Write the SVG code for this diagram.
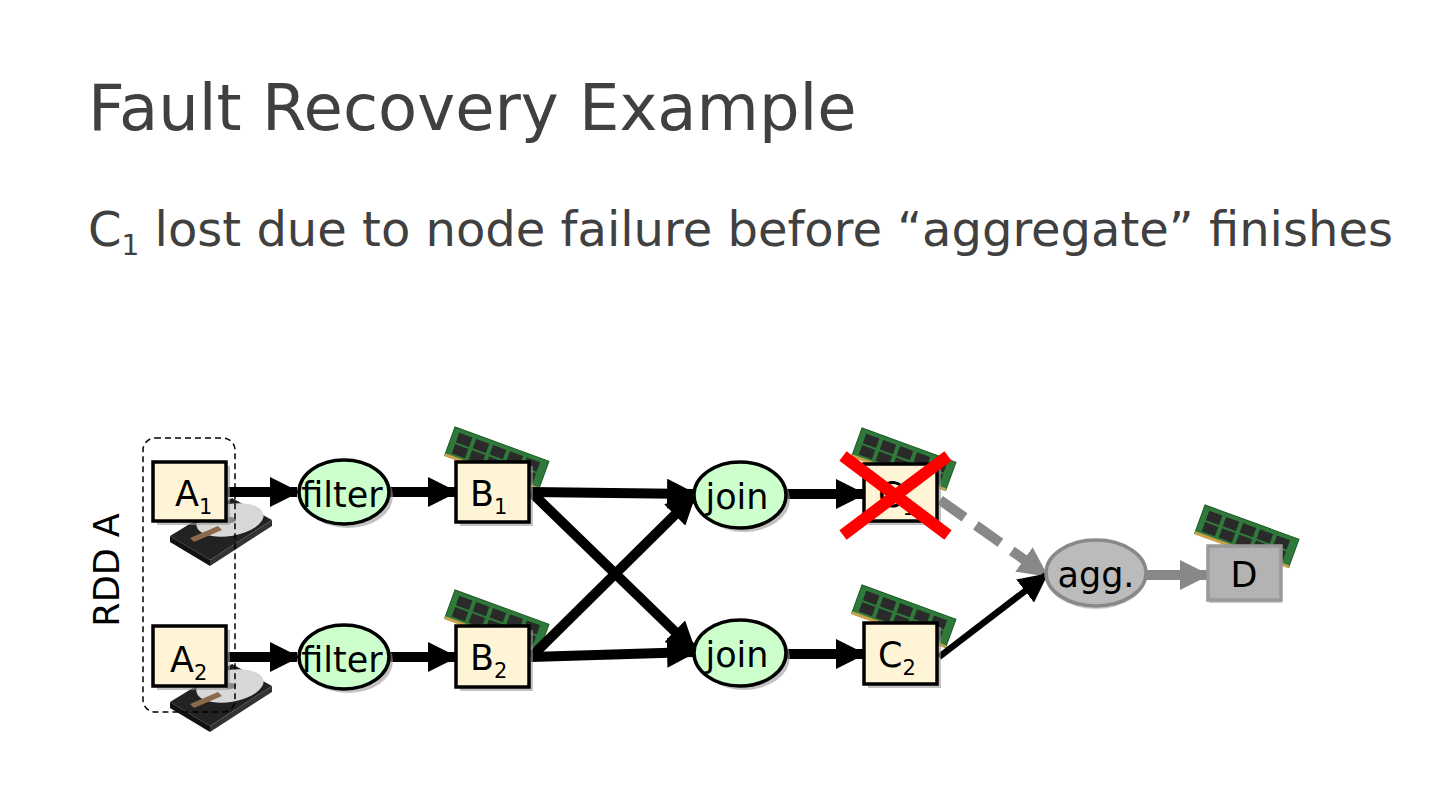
<svg xmlns="http://www.w3.org/2000/svg" width="1440" height="811" viewBox="0 0 1440 811">
<defs>
<style>
.t{font-family:"DejaVu Sans","Liberation Sans",sans-serif;fill:#404040}
.lbl{font-family:"DejaVu Sans","Liberation Sans",sans-serif;font-size:35px;fill:#000}
.sub{font-size:21px}
.box{fill:#FFF5D6;stroke:#000;stroke-width:3.5}
.shadow{fill:#9a9a9a;opacity:0.6}
.ell{fill:#CCFFCC;stroke:#000;stroke-width:3.5}
.ln{stroke:#000;stroke-width:10;fill:none}
.ram{fill:#2f7a3a;stroke:#1d5a28;stroke-width:1}
.chip{fill:#2a2a2a}
</style>
<marker id="ah" viewBox="0 0 10 10" refX="9" refY="5" markerWidth="3" markerHeight="3" markerUnits="strokeWidth" orient="auto">
<path d="M0,0 L10,5 L0,10 z" fill="#000"/>
</marker>
<marker id="ahg" viewBox="0 0 10 10" refX="9" refY="5" markerWidth="3" markerHeight="3" markerUnits="strokeWidth" orient="auto">
<path d="M0,0 L10,5 L0,10 z" fill="#888"/>
</marker>
<marker id="ahs" viewBox="0 0 10 10" refX="9" refY="5" markerWidth="4.5" markerHeight="4.5" markerUnits="strokeWidth" orient="auto">
<path d="M0,0 L10,5 L0,10 z" fill="#000"/>
</marker>
<g id="ramstick">
<rect class="ram" x="0" y="0" width="100" height="30"/>
<rect class="chip" x="6" y="4" width="14" height="10"/>
<rect class="chip" x="24" y="4" width="14" height="10"/>
<rect class="chip" x="42" y="4" width="14" height="10"/>
<rect class="chip" x="60" y="4" width="14" height="10"/>
<rect class="chip" x="78" y="4" width="14" height="10"/>
<rect class="chip" x="6" y="16" width="14" height="10"/>
<rect class="chip" x="24" y="16" width="14" height="10"/>
<rect class="chip" x="42" y="16" width="14" height="10"/>
<rect class="chip" x="60" y="16" width="14" height="10"/>
<rect class="chip" x="78" y="16" width="14" height="10"/>
<rect x="0" y="28" width="100" height="3" fill="#c9a24a"/>
</g>
<g id="hdd">
<path d="M0,38 L62,0 L102,22 L40,62 Z" fill="#222"/>
<ellipse cx="60" cy="22" rx="34" ry="16" fill="#d8d8d8" transform="rotate(-10 60 22)"/>
<ellipse cx="60" cy="22" rx="6" ry="3" fill="#888"/>
<path d="M20,40 L48,28 L52,32 L24,44 Z" fill="#8a6a4a"/>
<path d="M0,38 L40,62 L40,68 L0,44 Z" fill="#111"/>
<path d="M40,62 L102,22 L102,28 L40,68 Z" fill="#333"/>
</g>
</defs>
<rect width="1440" height="811" fill="#fff"/>

<text class="t" x="88" y="130" font-size="64">Fault Recovery Example</text>
<text class="t" x="88" y="246" font-size="48">C<tspan font-size="28" dy="9">1</tspan><tspan dy="-9"> lost due to node failure before “aggregate” finishes</tspan></text>

<g id="images">
<use href="#hdd" transform="translate(170,498)"/>
<use href="#hdd" transform="translate(170,664)"/>
<use href="#ramstick" transform="translate(455,427) rotate(20)"/>
<use href="#ramstick" transform="translate(455,590) rotate(20)"/>
<use href="#ramstick" transform="translate(862,428) rotate(20)"/>
<use href="#ramstick" transform="translate(862,585) rotate(20)"/>
<use href="#ramstick" transform="translate(1205,505) rotate(20)"/>
</g>

<g id="rddA">
<rect x="143" y="438" width="92" height="274" rx="12" fill="none" stroke="#000" stroke-width="1.5" stroke-dasharray="6,4"/>
<text class="lbl" transform="translate(119,570) rotate(-90)" text-anchor="middle" font-size="36">RDD A</text>
</g>

<g id="connectors">
<line class="ln" x1="228" y1="492" x2="297" y2="492" marker-end="url(#ah)"/>
<line class="ln" x1="228" y1="657" x2="297" y2="657" marker-end="url(#ah)"/>
<line class="ln" x1="390" y1="492" x2="455" y2="492" marker-end="url(#ah)"/>
<line class="ln" x1="390" y1="657" x2="455" y2="657" marker-end="url(#ah)"/>
<line class="ln" x1="531" y1="492" x2="694" y2="494" marker-end="url(#ah)"/>
<line class="ln" x1="531" y1="492" x2="694" y2="650" marker-end="url(#ah)"/>
<line class="ln" x1="531" y1="657" x2="694" y2="496" marker-end="url(#ah)"/>
<line class="ln" x1="531" y1="657" x2="694" y2="652" marker-end="url(#ah)"/>
<line class="ln" x1="786" y1="494" x2="863" y2="494" marker-end="url(#ah)"/>
<line class="ln" x1="786" y1="654" x2="863" y2="654" marker-end="url(#ah)"/>
<line x1="940" y1="500" x2="1046" y2="575" stroke="#888" stroke-width="10" stroke-dasharray="30,14" marker-end="url(#ahg)"/>
<line x1="939" y1="657" x2="1046" y2="575" stroke="#000" stroke-width="6.5" marker-end="url(#ahs)"/>
<line x1="1147" y1="575" x2="1207" y2="575" stroke="#888" stroke-width="10" marker-end="url(#ahg)"/>
</g>

<g id="A1">
<rect class="shadow" x="157" y="466" width="73" height="59"/>
<rect class="box" x="153" y="462" width="73" height="59"/>
<text class="lbl" x="175" y="506">A<tspan class="sub" dy="8">1</tspan></text>
</g>
<g id="A2">
<rect class="shadow" x="157" y="630" width="73" height="60"/>
<rect class="box" x="153" y="626" width="73" height="60"/>
<text class="lbl" x="170" y="672">A<tspan class="sub" dy="8">2</tspan></text>
</g>
<g id="filter1">
<ellipse cx="348" cy="496" rx="45" ry="32" class="shadow"/>
<ellipse cx="344" cy="492" rx="45" ry="32" class="ell"/>
<text class="lbl" x="342" y="507" text-anchor="middle">filter</text>
</g>
<g id="filter2">
<ellipse cx="348" cy="661" rx="45" ry="32" class="shadow"/>
<ellipse cx="344" cy="657" rx="45" ry="32" class="ell"/>
<text class="lbl" x="342" y="672" text-anchor="middle">filter</text>
</g>
<g id="B1">
<rect class="shadow" x="460" y="466" width="73" height="60"/>
<rect class="box" x="456" y="462" width="73" height="60"/>
<text class="lbl" x="470" y="506">B<tspan class="sub" dy="8">1</tspan></text>
</g>
<g id="B2">
<rect class="shadow" x="460" y="630" width="73" height="61"/>
<rect class="box" x="456" y="626" width="73" height="61"/>
<text class="lbl" x="470" y="670">B<tspan class="sub" dy="8">2</tspan></text>
</g>
<g id="join1">
<ellipse cx="744" cy="499" rx="46" ry="33" class="shadow"/>
<ellipse cx="740" cy="495" rx="46" ry="33" class="ell"/>
<text class="lbl" x="737" y="509" text-anchor="middle">join</text>
</g>
<g id="join2">
<ellipse cx="744" cy="657" rx="46" ry="33" class="shadow"/>
<ellipse cx="740" cy="653" rx="46" ry="33" class="ell"/>
<text class="lbl" x="737" y="667" text-anchor="middle">join</text>
</g>
<g id="C1">
<rect class="shadow" x="868" y="468" width="73" height="57"/>
<rect class="box" x="864" y="464" width="73" height="57"/>
<text class="lbl" x="878" y="507">C<tspan class="sub" dy="8">1</tspan></text>
<line x1="843" y1="456" x2="948" y2="535" stroke="#ff0000" stroke-width="12"/>
<line x1="948" y1="456" x2="843" y2="535" stroke="#ff0000" stroke-width="12"/>
</g>
<g id="C2">
<rect class="shadow" x="868" y="627" width="73" height="61"/>
<rect class="box" x="864" y="623" width="73" height="61"/>
<text class="lbl" x="878" y="667">C<tspan class="sub" dy="8">2</tspan></text>
</g>
<g id="agg">
<ellipse cx="1096" cy="576" rx="50" ry="33" fill="#999" opacity="0.5"/>
<ellipse cx="1096" cy="573" rx="50" ry="33" fill="#BBBBBB" stroke="#888" stroke-width="3.5"/>
<text class="lbl" x="1096" y="587" text-anchor="middle">agg.</text>
</g>
<g id="D">
<rect x="1209" y="549" width="73" height="54" fill="#999" opacity="0.5"/>
<rect x="1208" y="546" width="73" height="54" fill="#B3B3B3" stroke="#999" stroke-width="3.5"/>
<text class="lbl" x="1244" y="587" text-anchor="middle">D</text>
</g>
</svg>
